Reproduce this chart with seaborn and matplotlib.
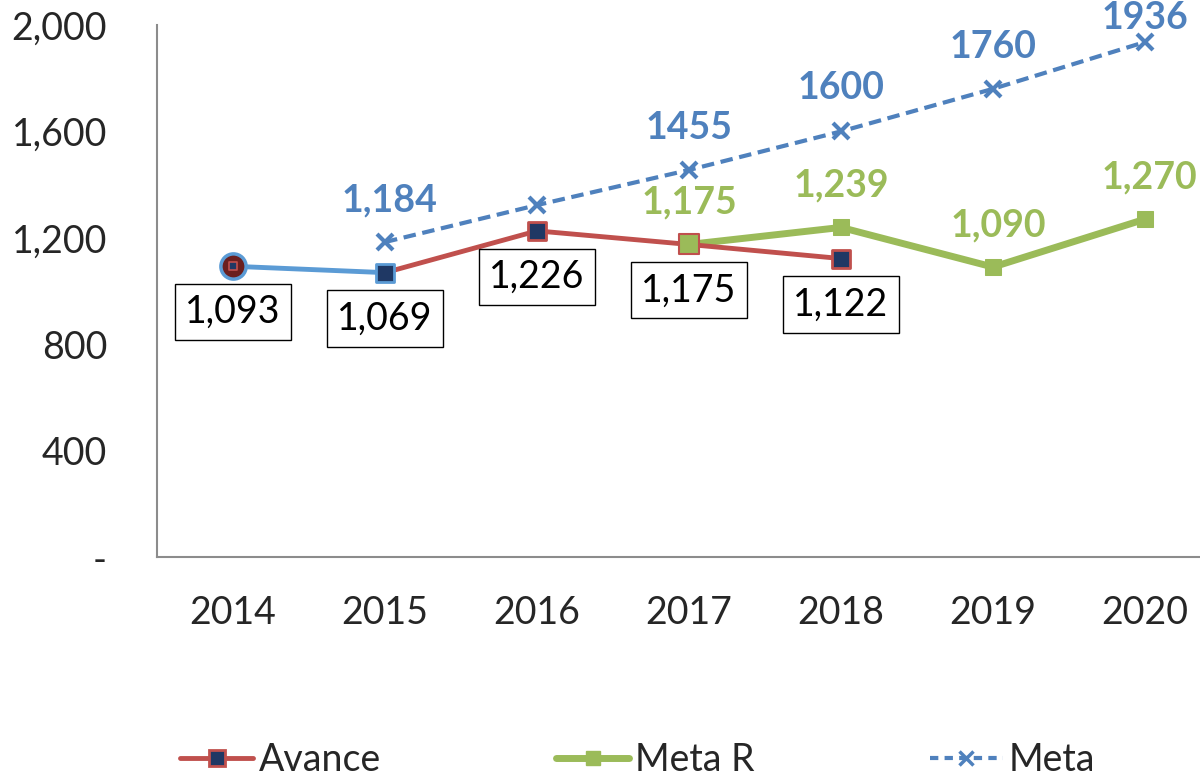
import numpy as np
import pandas as pd
import seaborn as sns
import matplotlib
matplotlib.use("Agg")
import matplotlib.pyplot as plt
from matplotlib.lines import Line2D

years = [2014, 2015, 2016, 2017, 2018, 2019, 2020]
avance = [1093, 1069, 1226, 1175, 1122, np.nan, np.nan]
meta_r = [np.nan, np.nan, np.nan, 1175, 1239, 1090, 1270]
meta = [np.nan, 1184, 1323, 1455, 1600, 1760, 1936]
meta_labels = [None, "1,184", None, "1455", "1600", "1760", "1936"]
y_ticks = [0, 400, 800, 1200, 1600, 2000]
y_tick_labels = ["-", "400", "800", "1,200", "1,600", "2,000"]

RED = "#C0504D"
GREEN = "#9BBB59"
BLUE = "#4F81BD"
LIGHT_BLUE = "#5B9BD5"
NAVY = "#1F3864"

sns.set_theme(style="white")
plt.rcParams["font.family"] = ["Lato", "DejaVu Sans"]

df = pd.DataFrame({"year": years, "Avance": avance, "Meta R": meta_r, "Meta": meta})

fig = plt.figure(figsize=(12, 7.78), dpi=100)
ax = fig.add_axes([157 / 1200, 221 / 778, 1064 / 1200, 532 / 778])

# Meta (dashed target line)
sns.lineplot(data=df.dropna(subset=["Meta"]), x="year", y="Meta", ax=ax, color=BLUE,
             linewidth=3, linestyle=(0, (3, 1.6)), marker="x", markersize=11,
             markeredgewidth=3, markeredgecolor=BLUE, zorder=3)

# Meta R (recalculated target)
sns.lineplot(data=df.dropna(subset=["Meta R"]), x="year", y="Meta R", ax=ax, color=GREEN,
             linewidth=5, marker="s", markersize=11, markeredgecolor=GREEN,
             markerfacecolor=GREEN, zorder=4)

# Avance: first segment in light blue, remaining segments in red
first = df.iloc[0:2]
rest = df.iloc[1:].dropna(subset=["Avance"])
sns.lineplot(data=first, x="year", y="Avance", ax=ax, color=LIGHT_BLUE, linewidth=3.5, zorder=4)
sns.lineplot(data=rest, x="year", y="Avance", ax=ax, color=RED, linewidth=3.5, zorder=4)
sns.scatterplot(x=[years[0]], y=[avance[0]], ax=ax, marker="o", s=330, color="#6B1F1F",
                edgecolor=LIGHT_BLUE, linewidth=2.5, zorder=5)
sns.scatterplot(x=[years[0]], y=[avance[0]], ax=ax, marker="s", s=40, color=NAVY,
                edgecolor=RED, linewidth=1.2, zorder=6)
sns.scatterplot(x=[years[1]], y=[avance[1]], ax=ax, marker="s", s=170, color=NAVY,
                edgecolor=LIGHT_BLUE, linewidth=2, zorder=6)
sns.scatterplot(x=years[2:5], y=avance[2:5], ax=ax, marker="s", s=170, color=NAVY,
                edgecolor=RED, linewidth=2, zorder=6)
# green marker drawn over the shared 2017 point
sns.scatterplot(x=[years[3]], y=[meta_r[3]], ax=ax, marker="s", s=190, color=GREEN,
                edgecolor=RED, linewidth=1.5, zorder=7)

FS = 27

# Boxed labels under the Avance points
for x, v in zip(years, avance):
    if np.isnan(v):
        continue
    ax.annotate(f"{int(v):,}", (x, v), xytext=(0, -33), textcoords="offset points",
                ha="center", va="center", fontsize=FS, color="black", zorder=8,
                bbox=dict(boxstyle="square,pad=0.27", fc="white", ec="black", lw=1))

# Green labels above Meta R points
mr_offsets = {2017: (0, 30), 2018: (0, 30), 2019: (4, 30), 2020: (3, 30)}
for x, v in zip(years, meta_r):
    if np.isnan(v):
        continue
    dx, dy = mr_offsets[x]
    ax.annotate(f"{int(v):,}", (x, v), xytext=(dx, dy), textcoords="offset points",
                ha="center", va="center", fontsize=FS, fontweight="bold", color=GREEN,
                zorder=8, annotation_clip=False)

# Blue labels above Meta points
m_offsets = {2015: (3, 30), 2017: (0, 30), 2018: (0, 31), 2019: (0, 30), 2020: (0, 17)}
for x, v, lab in zip(years, meta, meta_labels):
    if lab is None:
        continue
    dx, dy = m_offsets[x]
    ax.annotate(lab, (x, v), xytext=(dx, dy), textcoords="offset points",
                ha="center", va="center", fontsize=FS, fontweight="bold", color=BLUE,
                zorder=8, annotation_clip=False)

ax.set_xlim(2013.5, 2020.5)
ax.set_ylim(0, 2000)
ax.set_xticks(years)
ax.set_xticklabels([str(y) for y in years], fontsize=FS)
ax.set_yticks(y_ticks)
ax.set_yticklabels(y_tick_labels, fontsize=FS)
ax.tick_params(axis="x", length=0, pad=27)
ax.tick_params(axis="y", length=0, pad=36)
ax.set_xlabel("")
ax.set_ylabel("")
for side in ["top", "right"]:
    ax.spines[side].set_visible(False)
for side in ["left", "bottom"]:
    ax.spines[side].set_color("#8C8C8C")
    ax.spines[side].set_linewidth(1.5)
ax.grid(False)

handles = [
    Line2D([], [], color=RED, lw=3.5, marker="s", markersize=11, markerfacecolor=NAVY,
           markeredgecolor=RED, markeredgewidth=2),
    Line2D([], [], color=GREEN, lw=5, marker="s", markersize=10, markerfacecolor=GREEN,
           markeredgecolor=GREEN),
    Line2D([], [], color=BLUE, lw=3, linestyle=(0, (2, 1.5)), marker="x", markersize=10,
           markeredgewidth=2.5),
]
fig.legend(handles, ["Avance", "Meta R", "Meta"], loc="center left",
           bbox_to_anchor=(165 / 1200, 18 / 778), ncol=3, frameon=False, fontsize=FS,
           handlelength=1.95, handletextpad=0.15, columnspacing=4.67, borderaxespad=0)

fig.savefig("out.png", dpi=100)
